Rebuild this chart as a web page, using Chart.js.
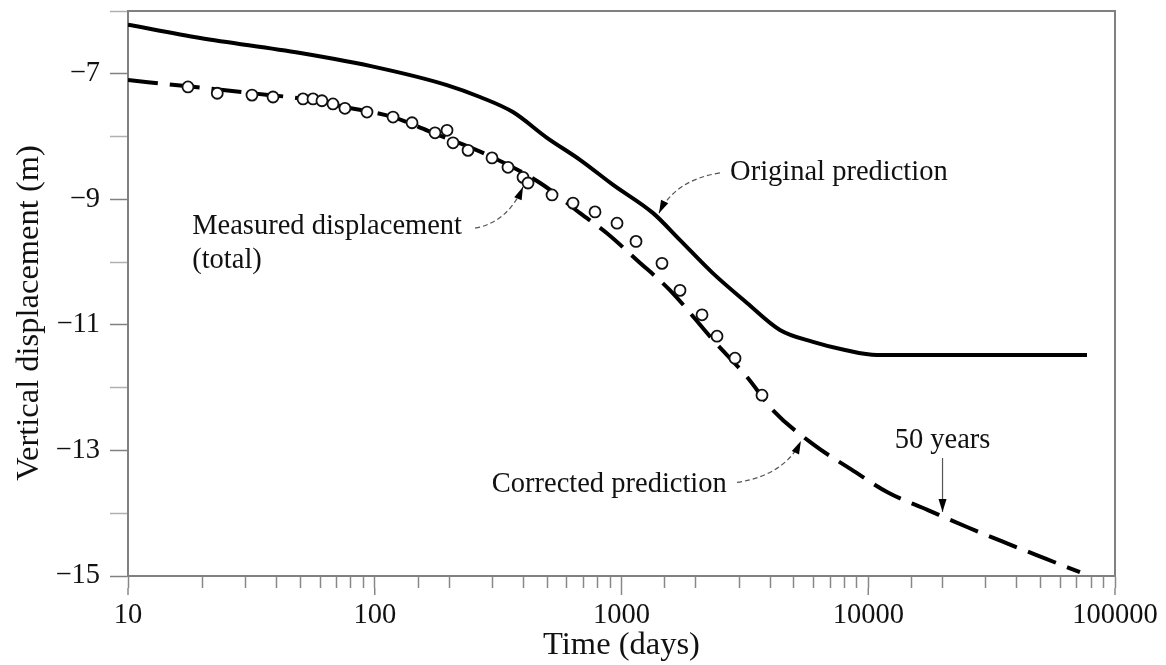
<!DOCTYPE html>
<html>
<head>
<meta charset="utf-8">
<script src="https://cdn.jsdelivr.net/npm/chart.js@4"></script>
<style>
  html, body { margin: 0; padding: 0; background: #fff; }
  canvas { display: block; }
</style>
</head>
<body>
<canvas id="chart" width="1166" height="665"></canvas>
<script>
// Time (days) and vertical displacement (m)
const origTime = [10, 19.6, 50, 105, 196, 267, 363, 499, 679, 925, 1343, 1727, 2349, 3226, 4386, 5970, 8050, 10840, 77000];
const origDisp = [-6.22, -6.43, -6.67, -6.91, -7.18, -7.37, -7.61, -8.02, -8.37, -8.77, -9.22, -9.65, -10.18, -10.65, -11.08, -11.27, -11.40, -11.48, -11.48];

const corrTime = [10, 17.5, 31.8, 51.2, 75.7, 118.6, 164.5, 285, 468, 679, 873, 1156, 1574, 2349, 3226, 4112, 5970, 8590, 12020, 17460, 25120, 36490, 52000, 72100];
const corrDisp = [-7.10, -7.20, -7.31, -7.40, -7.53, -7.69, -7.91, -8.29, -8.74, -9.22, -9.54, -9.97, -10.45, -11.24, -11.83, -12.36, -12.90, -13.31, -13.67, -13.95, -14.22, -14.48, -14.72, -14.94];

const measTime = [17.5, 23.0, 31.8, 38.7, 51.2, 56.2, 61.1, 67.7, 75.7, 93.0, 118.6, 141.6, 175.5, 196.3, 207.6, 238.8, 298.7, 346.7, 398.9, 418, 523, 636, 781, 959, 1145, 1459, 1726, 2120, 2438, 2884, 3710];
const measDisp = [-7.21, -7.31, -7.34, -7.37, -7.40, -7.40, -7.43, -7.48, -7.55, -7.61, -7.69, -7.78, -7.94, -7.90, -8.10, -8.22, -8.34, -8.49, -8.65, -8.74, -8.93, -9.06, -9.20, -9.38, -9.67, -10.02, -10.45, -10.84, -11.18, -11.53, -12.12];

const yTicks = [-15, -6];
const xRange = [10, 100000];

const FONT = "'Liberation Serif', 'Times New Roman', serif";

function pts(xs, ys) {
    return xs.map((x, i) => ({ x: x, y: ys[i] }));
}

// labels drawn on the chart, positioned in data units
const notes = [
    { text: 'Original prediction', t: 2754, v: -8.58 },
    { text: 'Measured displacement', t: 18.2, v: -9.43 },
    { text: '(total)', t: 18.2, v: -9.97 },
    { text: 'Corrected prediction', t: 298, v: -13.54 },
    { text: '50 years', t: 20000, v: -12.84, center: true }
];
// leader curves: start, control, tip
const leaders = [
    [[2506, -8.58], [1648, -8.69], [1419, -9.22]],
    [[255, -9.46], [347, -9.36], [399, -8.80]],
    [[2938, -13.51], [4602, -13.39], [5335, -12.85]]
];
const yearsArrow = [[20000, -13.12], [20000, -13.98]];

function arrowHead(ctx, fx, fy, tx, ty) {
    const a = Math.atan2(ty - fy, tx - fx);
    const len = 13, w = 4;
    ctx.beginPath();
    ctx.moveTo(tx, ty);
    ctx.lineTo(tx - len * Math.cos(a) + w * Math.sin(a), ty - len * Math.sin(a) - w * Math.cos(a));
    ctx.lineTo(tx - len * Math.cos(a) - w * Math.sin(a), ty - len * Math.sin(a) + w * Math.cos(a));
    ctx.closePath();
    ctx.fill();
}

const decorations = {
    id: 'decorations',
    afterDraw(chart) {
        const ctx = chart.ctx;
        const xs = chart.scales.x, ys = chart.scales.y;
        const area = chart.chartArea;
        const px = t => xs.getPixelForValue(t);
        const py = v => ys.getPixelForValue(v);

        ctx.save();
        // top and right frame
        ctx.strokeStyle = '#808080';
        ctx.lineWidth = 2;
        ctx.beginPath();
        ctx.moveTo(area.left, area.top);
        ctx.lineTo(area.right, area.top);
        ctx.lineTo(area.right, area.bottom);
        ctx.stroke();

        // longer ticks at the decades
        ctx.strokeStyle = '#888';
        ctx.lineWidth = 1.5;
        xs.ticks.forEach(tk => {
            const lg = Math.log10(tk.value);
            if (Math.abs(lg - Math.round(lg)) < 1e-6) {
                const x = px(tk.value);
                ctx.beginPath();
                ctx.moveTo(x, area.bottom + 12);
                ctx.lineTo(x, area.bottom + 19);
                ctx.stroke();
            }
        });

        // y axis title
        ctx.fillStyle = '#111';
        ctx.font = '32.5px ' + FONT;
        ctx.textAlign = 'center';
        ctx.textBaseline = 'middle';
        ctx.save();
        ctx.translate(29, 313);
        ctx.rotate(-Math.PI / 2);
        ctx.fillText('Vertical displacement (m)', 0, 0);
        ctx.restore();

        // notes
        ctx.font = '28.5px ' + FONT;
        notes.forEach(n => {
            ctx.textAlign = n.center ? 'center' : 'left';
            ctx.fillText(n.text, px(n.t), py(n.v));
        });

        // leader curves
        leaders.forEach(l => {
            const [s, c, e] = l.map(p => [px(p[0]), py(p[1])]);
            ctx.strokeStyle = '#555';
            ctx.lineWidth = 1.2;
            ctx.setLineDash([5, 3]);
            ctx.beginPath();
            ctx.moveTo(s[0], s[1]);
            ctx.quadraticCurveTo(c[0], c[1], e[0], e[1]);
            ctx.stroke();
            ctx.setLineDash([]);
            ctx.fillStyle = '#000';
            arrowHead(ctx, c[0], c[1], e[0], e[1]);
        });

        // 50 years arrow
        const a0 = [px(yearsArrow[0][0]), py(yearsArrow[0][1])];
        const a1 = [px(yearsArrow[1][0]), py(yearsArrow[1][1])];
        ctx.strokeStyle = '#555';
        ctx.lineWidth = 1.2;
        ctx.beginPath();
        ctx.moveTo(a0[0], a0[1]);
        ctx.lineTo(a1[0], a1[1]);
        ctx.stroke();
        ctx.fillStyle = '#000';
        arrowHead(ctx, a0[0], a0[1], a1[0], a1[1]);
        ctx.restore();
    }
};

new Chart(document.getElementById('chart'), {
    type: 'line',
    data: {
        datasets: [
            {
                label: 'Measured displacement (total)',
                data: pts(measTime, measDisp),
                showLine: false,
                pointRadius: 5.5,
                pointBorderWidth: 1.8,
                pointBackgroundColor: '#fff',
                pointBorderColor: '#111',
                order: 0
            },
            {
                label: 'Corrected prediction',
                data: pts(corrTime, corrDisp),
                borderColor: '#000',
                borderWidth: 4,
                borderDash: [30, 12],
                pointRadius: 0,
                cubicInterpolationMode: 'monotone',
                order: 1
            },
            {
                label: 'Original prediction',
                data: pts(origTime, origDisp),
                borderColor: '#000',
                borderWidth: 4,
                pointRadius: 0,
                cubicInterpolationMode: 'monotone',
                order: 2
            }
        ]
    },
    options: {
        responsive: false,
        animation: false,
        layout: { padding: { top: 11, right: 51, left: 0, bottom: 0 } },
        plugins: {
            legend: { display: false },
            tooltip: { enabled: false }
        },
        scales: {
            x: {
                type: 'logarithmic',
                min: xRange[0],
                max: xRange[1],
                afterFit(scale) {
                    scale.height = 89;
                    scale.paddingLeft = 0;
                    scale.paddingRight = 0;
                },
                border: { display: true, color: '#808080', width: 2 },
                grid: {
                    drawOnChartArea: false,
                    tickLength: 12,
                    tickWidth: 1.5,
                    tickColor: '#888'
                },
                ticks: {
                    autoSkip: false,
                    maxRotation: 0,
                    padding: 10,
                    color: '#111',
                    font: { family: FONT, size: 28.5 },
                    callback(value) {
                        const lg = Math.log10(value);
                        return Math.abs(lg - Math.round(lg)) < 1e-6 ? String(value) : '';
                    }
                },
                title: {
                    display: true,
                    text: 'Time (days)',
                    color: '#111',
                    font: { family: FONT, size: 32.5 },
                    padding: { top: 0, bottom: 0 }
                }
            },
            y: {
                min: yTicks[0],
                max: yTicks[1],
                afterFit(scale) {
                    scale.width = 128;
                    scale.paddingTop = 0;
                    scale.paddingBottom = 0;
                },
                border: { display: true, color: '#808080', width: 2 },
                grid: {
                    drawOnChartArea: false,
                    tickLength: 18,
                    tickWidth: 1.5,
                    tickColor: ctx => (ctx.tick && ctx.tick.value % 2 !== 0) ? '#808080' : '#b0b0b0'
                },
                ticks: {
                    stepSize: 1,
                    padding: 10,
                    color: '#111',
                    font: { family: FONT, size: 28.5 },
                    callback(value) {
                        return value % 2 !== 0 ? '\u2212' + Math.abs(value) : '';
                    }
                }
            }
        }
    },
    plugins: [decorations]
});
</script>
</body>
</html>
